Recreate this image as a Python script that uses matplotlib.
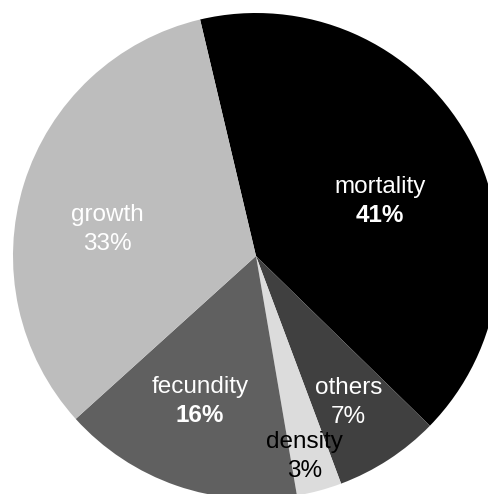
import matplotlib.pyplot as plt

plt.rcParams['font.family'] = ['Liberation Sans', 'DejaVu Sans']

# shares of each process, clockwise from the top
categories = ['mortality', 'others', 'density', 'fecundity', 'growth']
shares = [41, 7, 3, 16, 33]
colors = ['#000000', '#404040', '#dcdcdc', '#606060', '#bdbdbd']
text_colors = ['white', 'white', 'black', 'white', 'white']
pct_bold = [True, False, False, True, False]
# where each name / percentage pair sits (unit-circle coords)
label_xy = [(0.51, 0.284), (0.38, -0.543), (0.20, -0.765),
            (-0.23, -0.539), (-0.613, 0.169)]
line_gap = 0.118

fig = plt.figure(figsize=(4.89, 4.94), dpi=100)
ax = fig.add_axes([0, 0, 1, 1])
ax.pie(shares, colors=colors, startangle=103.3, counterclock=False,
       radius=1.0, wedgeprops=dict(linewidth=0))

for name, val, tc, bold, (x, y) in zip(categories, shares, text_colors,
                                       pct_bold, label_xy):
    ax.text(x, y, name, color=tc, fontsize=17.5, ha='center', va='center')
    ax.text(x, y - line_gap, f'{val}%', color=tc, fontsize=17.5,
            ha='center', va='center',
            fontweight='bold' if bold else 'normal')

ax.set_xlim(-256 / 243, 233 / 243)
ax.set_ylim(-238 / 243, 256 / 243)
ax.set_aspect('auto')
ax.axis('off')
fig.savefig('out.png', dpi=100)
